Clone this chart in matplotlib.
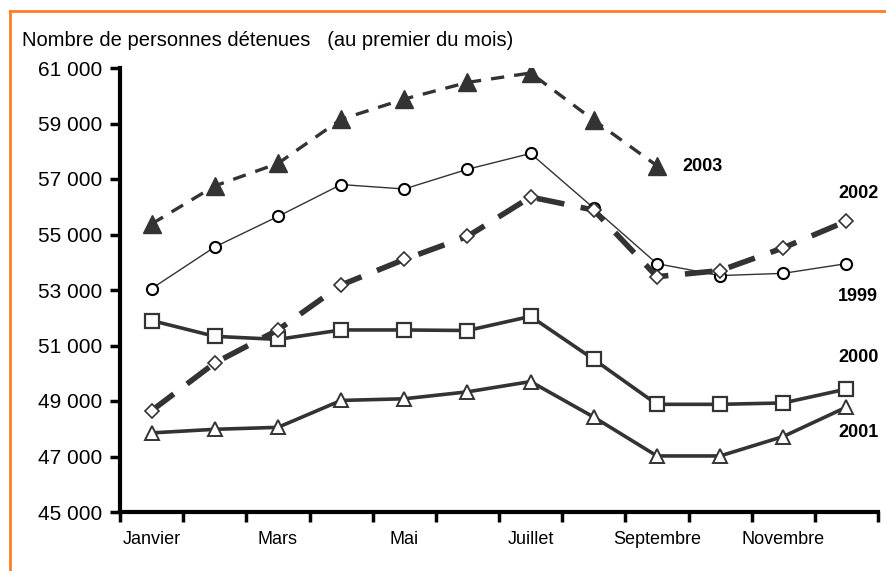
import matplotlib
matplotlib.use('Agg')
import matplotlib.pyplot as plt
from matplotlib.lines import Line2D

plt.rcParams['font.family'] = ['Liberation Sans', 'DejaVu Sans']

# data ==================================================================
months = ['Janvier', 'Février', 'Mars', 'Avril', 'Mai', 'Juin', 'Juillet',
          'Août', 'Septembre', 'Octobre', 'Novembre', 'Décembre']
y1999 = [53050, 54550, 55650, 56800, 56640, 57350, 57920, 55950, 53950, 53520, 53600, 53950]
y2000 = [51900, 51330, 51220, 51560, 51560, 51540, 52050, 50500, 48880, 48880, 48930, 49430]
y2001 = [47850, 47980, 48050, 49020, 49080, 49330, 49700, 48420, 47020, 47020, 47720, 48780]
y2002 = [48650, 50370, 51560, 53180, 54100, 54930, 56350, 55880, 53480, 53700, 54520, 55480]
y2003 = [55380, 56750, 57560, 59150, 59880, 60480, 60820, 59120, 57480]

fig = plt.figure(figsize=(8.86, 5.71), dpi=100)
ax = fig.add_axes([120/886, 1-512/571, 758/886, (512-68)/571])

dark = '#333333'
x = [i + 0.5 for i in range(12)]

ax.plot(x, y1999, color=dark, lw=1.0, marker='o', ms=8, mfc='white', mec='black', mew=1.5, zorder=4)
ax.plot(x, y2000, color=dark, lw=2.6, marker='s', ms=10, mfc='white', mec=dark, mew=1.6, zorder=3)
ax.plot(x, y2001, color=dark, lw=2.6, marker='^', ms=10, mfc='white', mec=dark, mew=1.4, zorder=3)
ax.plot(x, y2002, color=dark, lw=4.0, ls=(0, (5, 3)), marker='D', ms=7, mfc='white', mec=dark, mew=1.2, zorder=5)
ax.plot(x[:len(y2003)], y2003, color=dark, lw=2.4, ls=(0, (4, 3)), marker='^', ms=13, mfc=dark, mec=dark, zorder=5)

# series labels
lab = dict(fontsize=13, fontweight='bold', color='black', va='center')
ax.text(8.9, 57450, '2003', ha='left', **lab)
ax.text(11.37, 56480, '2002', ha='left', **lab)
ax.text(11.37, 52750, '1999', ha='left', **lab)
ax.text(11.37, 50560, '2000', ha='left', **lab)
ax.text(11.37, 47880, '2001', ha='left', **lab)

ax.set_xlim(0, 12)
ax.set_ylim(45000, 61000)
yt = list(range(45000, 61001, 2000))
ax.set_yticks(yt)
ax.set_yticklabels([f'{v // 1000} 000' for v in yt], fontsize=15)
ax.set_xticks(range(13))
ax.set_xticklabels([])
ax.set_xticks([x[i] for i in range(0, 12, 2)], minor=True)
ax.set_xticklabels([months[i] for i in range(0, 12, 2)], minor=True, fontsize=13)
ax.tick_params(axis='x', which='minor', length=0, pad=14)
ax.tick_params(axis='both', which='major', width=2.5, length=7, direction='out')
ax.tick_params(axis='y', pad=6)

for s in ['top', 'right']:
    ax.spines[s].set_visible(False)
for s in ['left', 'bottom']:
    ax.spines[s].set_linewidth(3)

fig.text(22/886, 1-40/571, 'Nombre de personnes détenues   (au premier du mois)',
         fontsize=14.5, va='center', ha='left')

# orange frame (top and left)
orange = '#FF7F27'
fig.add_artist(Line2D([10/886, 1], [1-11/571, 1-11/571], color=orange, lw=2))
fig.add_artist(Line2D([10/886, 10/886], [0, 1-11/571], color=orange, lw=2))

fig.savefig('out.png', dpi=100)
